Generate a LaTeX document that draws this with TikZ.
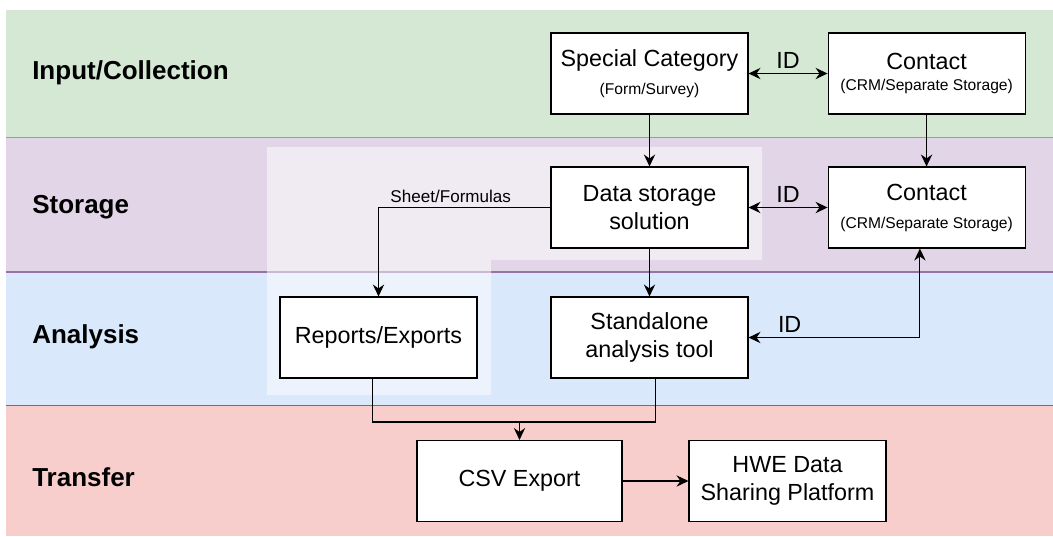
\documentclass[tikz,border=0pt]{standalone}
\usepackage{fontspec}
\setmainfont{Liberation Sans}
\usepackage{tikz}
\usetikzlibrary{
  arrows.meta,
  positioning
}
\usepackage{xcolor}
\definecolor{inputfill}{HTML}{D5E8D4}
\definecolor{inputline}{HTML}{82B366}
\definecolor{storefill}{HTML}{E1D5E7}
\definecolor{storeline}{HTML}{9673A6}
\definecolor{analysisfill}{HTML}{DAE8FC}
\definecolor{analysisline}{HTML}{6C8EBF}
\definecolor{transferfill}{HTML}{F8CECC}
\definecolor{transferline}{HTML}{B85450}
\newcommand{\mainsize}{\fontsize{17.5}{21}\selectfont}
\newcommand{\subsize}{\fontsize{11.7}{14}\selectfont}
\newcommand{\notesize}{\fontsize{12.8}{15}\selectfont}
\tikzset{
  stepbox/.style={
    rectangle, draw=black, fill=white, line width=0.8pt,
    minimum width=147.75pt, minimum height=60.75pt,
    font=\mainsize, align=center, inner sep=2pt
  },
  lanelabel/.style={anchor=west, inner sep=0pt, font=\fontsize{19.5}{23}\selectfont\bfseries},
  laneborder/.style={line width=1.2pt},
  arrow/.style={-{Stealth[length=9pt, width=8.5pt, inset=3pt]}, line width=0.85pt},
  biarrow/.style={{Stealth[length=9pt, width=8.5pt, inset=3pt]}-{Stealth[length=9pt, width=8.5pt, inset=3pt]}, line width=0.85pt},
  link/.style={line width=0.85pt},
  idlabel/.style={above, font=\mainsize},
}

\begin{document}
\begin{tikzpicture}[x=0.75pt, y=-0.75pt]
\useasboundingbox (0,0) rectangle (1053,536);

% Lanes
\fill[inputfill] (6,10) rectangle (1053,137.5);
\fill[storefill] (6,137.5) rectangle (1053,272);
\fill[analysisfill] (6,272) rectangle (1053,405.5);
\fill[transferfill] (6,405.5) rectangle (1053,536);
\draw[laneborder, inputline] (6,137.5) -- (1053,137.5);
\draw[laneborder, storeline] (6,272) -- (1053,272);
\draw[laneborder, transferline] (6,405.5) -- (1053,405.5);

\node[lanelabel] (laneinput) at (32,73) {Input/Collection};
\node[lanelabel] (lanestorage) at (32,207) {Storage};
\node[lanelabel] (laneanalysis) at (32,337) {Analysis};
\node[lanelabel] (lanetransfer) at (32,477) {Transfer};

% Highlighted area
\fill[white, opacity=0.5] (267,147) -- (762,147) -- (762,260) -- (491,260) -- (491,395) -- (267,395) -- cycle;

% Boxes
\node[stepbox] (special) at (649.5,73.5) {Special Category\\[0.5pt]{\subsize (Form/Survey)}};
\node[stepbox, right=59.25pt of special] (contact) {Contact\\[-4.75pt]{\subsize (CRM/Separate Storage)}};
\node[stepbox] (storage) at (649.5,207.5) {Data storage\\solution};
\node[stepbox, right=59.25pt of storage] (contactstore) {Contact\\[0pt]{\subsize (CRM/Separate Storage)}};
\node[stepbox] (reports) at (378.5,337.5) {Reports/Exports};
\node[stepbox] (tool) at (649.5,337.5) {Standalone\\analysis tool};
\node[stepbox, minimum width=153.75pt] (csv) at (519.5,481) {CSV Export};
\node[stepbox] (hwe) at (787.5,481) {HWE Data\\Sharing Platform};

% Connectors
\draw[biarrow] (special) -- node[idlabel] {ID} (contact);
\draw[arrow] (special) -- (storage);
\draw[arrow] (contact) -- (contactstore);
\draw[biarrow] (storage) -- node[idlabel] {ID} (contactstore);
\draw[arrow] (storage) -- (tool);
\draw[biarrow] (tool.east) -| node[idlabel, pos=0.12] {ID} ([xshift=-5pt]contactstore.south);
\draw[arrow] (storage.west) -| node[above, pos=0.29, font=\notesize] {Sheet/Formulas} (reports.north);

\coordinate (merge) at (519.5,422);
\draw[link] ([xshift=-4.5pt]reports.south) |- (merge);
\draw[link] ([xshift=4.5pt]tool.south) |- (merge);
\draw[arrow] (merge) -- (csv);
\draw[arrow] (csv) -- (hwe);

\end{tikzpicture}
\end{document}
